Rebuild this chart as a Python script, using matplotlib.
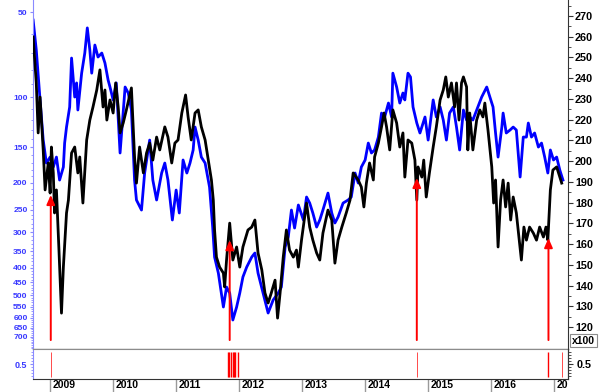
import matplotlib
matplotlib.use("Agg")
import matplotlib.pyplot as plt
from matplotlib.ticker import FixedLocator, NullFormatter, FixedFormatter
from matplotlib.transforms import Bbox, TransformedBbox, blended_transform_factory

plt.rcParams['font.family'] = ['Liberation Sans', 'DejaVu Sans']

# ---------------- data (decimal years) ----------------
black_dates = [2008.73, 2008.78, 2008.81, 2008.84, 2008.89, 2008.92, 2008.97, 2009.00, 2009.02, 2009.05,
               2009.07, 2009.10, 2009.14, 2009.18, 2009.21, 2009.26, 2009.29, 2009.34, 2009.39, 2009.44,
               2009.47, 2009.52, 2009.58, 2009.63, 2009.68, 2009.74, 2009.79, 2009.84, 2009.87, 2009.90,
               2009.95, 2010.00, 2010.04, 2010.08, 2010.11, 2010.16, 2010.21, 2010.29, 2010.34, 2010.37,
               2010.42, 2010.48, 2010.53, 2010.58, 2010.63, 2010.69, 2010.74, 2010.82, 2010.87, 2010.93,
               2010.98, 2011.03, 2011.09, 2011.15, 2011.19, 2011.24, 2011.30, 2011.35, 2011.40, 2011.46,
               2011.51, 2011.56, 2011.59, 2011.61, 2011.64, 2011.69, 2011.75, 2011.77, 2011.80, 2011.85,
               2011.90, 2011.96, 2012.01, 2012.06, 2012.14, 2012.20, 2012.25, 2012.30, 2012.36, 2012.41,
               2012.46, 2012.51, 2012.57, 2012.61, 2012.65, 2012.70, 2012.75, 2012.80, 2012.86, 2012.91,
               2012.94, 2012.99, 2013.07, 2013.12, 2013.17, 2013.23, 2013.28, 2013.33, 2013.41, 2013.47,
               2013.52, 2013.57, 2013.63, 2013.70, 2013.76, 2013.81, 2013.89, 2013.94, 2013.98, 2014.02,
               2014.07, 2014.13, 2014.15, 2014.21, 2014.26, 2014.30, 2014.34, 2014.39, 2014.44, 2014.50,
               2014.55, 2014.60, 2014.63, 2014.68, 2014.74, 2014.79, 2014.82, 2014.84, 2014.90, 2014.93,
               2014.97, 2015.02, 2015.08, 2015.13, 2015.19, 2015.24, 2015.28, 2015.32, 2015.37, 2015.42,
               2015.45, 2015.49, 2015.53, 2015.56, 2015.61, 2015.63, 2015.66, 2015.71, 2015.77, 2015.82,
               2015.87, 2015.90, 2015.95, 2016.01, 2016.04, 2016.07, 2016.11, 2016.15, 2016.19, 2016.23,
               2016.27, 2016.31, 2016.35, 2016.40, 2016.44, 2016.48, 2016.52, 2016.56, 2016.61, 2016.67,
               2016.72, 2016.77, 2016.83, 2016.87, 2016.90, 2016.94, 2016.98, 2017.04, 2017.09, 2017.12]
black_vals = [259.9, 237.7, 213.6, 230.9, 205.4, 186.1, 199.1, 184.6, 206.8, 194.3,
              175.0, 186.1, 157.1, 126.7, 148.9, 175.0, 181.2, 203.9, 206.8, 194.3,
              202.0, 179.8, 210.2, 219.8, 226.1, 234.3, 244.0, 226.1, 234.3, 219.8,
              229.5, 223.2, 237.7, 226.1, 213.6, 218.4, 224.7, 235.3, 202.0, 189.4,
              206.8, 194.3, 203.9, 208.7, 200.5, 211.6, 205.4, 216.5, 211.6, 199.1,
              208.7, 210.2, 223.2, 231.9, 221.3, 210.2, 223.2, 224.7, 216.5, 210.2,
              200.5, 190.9, 181.2, 166.8, 153.7, 148.9, 146.0, 139.3, 152.3, 170.1,
              152.3, 158.6, 148.9, 158.6, 166.8, 168.2, 171.6, 155.7, 147.5, 136.4,
              131.6, 136.4, 142.6, 124.3, 136.4, 153.7, 166.8, 157.1, 153.7, 157.1,
              148.9, 161.9, 179.8, 168.2, 161.9, 155.7, 152.3, 165.3, 176.4, 171.6,
              150.8, 161.9, 168.2, 175.0, 181.2, 194.3, 190.9, 187.5, 177.9, 189.4,
              199.1, 190.9, 202.0, 208.7, 216.5, 223.2, 216.5, 205.4, 224.7, 218.4,
              206.8, 213.6, 192.3, 210.2, 208.7, 200.5, 181.2, 197.2, 192.3, 200.5,
              182.7, 194.3, 206.8, 216.5, 229.5, 234.3, 240.6, 230.9, 237.7, 226.1,
              237.7, 219.8, 237.7, 240.6, 235.8, 205.4, 223.2, 205.4, 219.8, 224.7,
              221.3, 228.0, 215.0, 197.2, 179.8, 190.9, 158.6, 181.2, 190.9, 177.9,
              189.4, 171.6, 182.7, 175.0, 163.4, 152.3, 168.2, 161.9, 168.2, 165.3,
              161.9, 168.2, 163.4, 168.2, 161.9, 186.1, 195.7, 197.2, 192.3, 189.4]

blue_dates = [2008.73, 2008.78, 2008.84, 2008.89, 2008.94, 2009.00, 2009.05, 2009.10, 2009.15, 2009.21,
              2009.23, 2009.26, 2009.31, 2009.34, 2009.39, 2009.42, 2009.44, 2009.50, 2009.55, 2009.59,
              2009.63, 2009.66, 2009.71, 2009.76, 2009.82, 2009.87, 2009.92, 2009.95, 2010.00, 2010.05,
              2010.11, 2010.19, 2010.24, 2010.29, 2010.34, 2010.37, 2010.45, 2010.50, 2010.58, 2010.63,
              2010.69, 2010.77, 2010.82, 2010.87, 2010.94, 2011.00, 2011.05, 2011.11, 2011.17, 2011.22,
              2011.27, 2011.30, 2011.35, 2011.40, 2011.46, 2011.53, 2011.58, 2011.61, 2011.67, 2011.75,
              2011.80, 2011.85, 2011.90, 2011.96, 2012.01, 2012.06, 2012.12, 2012.20, 2012.25, 2012.30,
              2012.38, 2012.46, 2012.54, 2012.62, 2012.67, 2012.73, 2012.78, 2012.83, 2012.88, 2012.94,
              2013.02, 2013.07, 2013.12, 2013.17, 2013.23, 2013.28, 2013.33, 2013.41, 2013.47, 2013.52,
              2013.57, 2013.65, 2013.73, 2013.78, 2013.84, 2013.89, 2013.94, 2014.00, 2014.05, 2014.10,
              2014.15, 2014.21, 2014.26, 2014.31, 2014.37, 2014.42, 2014.44, 2014.50, 2014.55, 2014.60,
              2014.63, 2014.68, 2014.72, 2014.76, 2014.82, 2014.87, 2014.95, 2015.00, 2015.08, 2015.13,
              2015.19, 2015.24, 2015.29, 2015.34, 2015.40, 2015.45, 2015.50, 2015.56, 2015.61, 2015.66,
              2015.71, 2015.79, 2015.85, 2015.93, 2015.98, 2016.03, 2016.07, 2016.11, 2016.17, 2016.19,
              2016.24, 2016.30, 2016.35, 2016.40, 2016.46, 2016.51, 2016.56, 2016.59, 2016.64, 2016.69,
              2016.75, 2016.80, 2016.85, 2016.90, 2016.94, 2016.99, 2017.04, 2017.09, 2017.14]
blue_vals = [53.4, 68.1, 102.2, 141.6, 170.7, 162.6, 176.3, 162.6, 196.0, 176.3,
             145.1, 127.4, 108.2, 72.7, 99.8, 89.0, 110.9, 82.2, 69.8, 56.9,
             68.1, 82.2, 65.4, 72.1, 69.8, 75.7, 86.9, 92.0, 102.2, 89.0,
             157.3, 92.0, 96.6, 110.9, 196.0, 230.5, 250.1, 185.1, 141.6, 196.0,
             230.5, 185.1, 170.7, 196.0, 271.2, 212.6, 256.2, 166.5, 185.1, 170.7,
             153.5, 127.4, 141.6, 162.6, 170.7, 207.5, 287.2, 366.5, 417.5, 550.1,
             467.8, 491.3, 611.5, 550.1, 491.3, 431.0, 397.6, 366.5, 354.7, 417.5,
             491.3, 577.7, 519.6, 491.3, 467.8, 337.9, 311.4, 250.1, 289.5, 240.1,
             271.2, 225.0, 236.3, 256.2, 287.2, 271.2, 250.1, 217.9, 256.2, 277.9,
             264.8, 236.3, 230.5, 225.0, 185.1, 200.8, 176.3, 166.5, 145.1, 157.3,
             153.5, 138.2, 113.7, 117.4, 104.8, 117.4, 82.2, 92.0, 104.8, 96.6,
             102.2, 82.2, 84.8, 108.2, 123.3, 133.7, 117.4, 141.6, 102.2, 117.4,
             108.2, 120.3, 141.6, 113.7, 108.2, 127.4, 153.5, 110.9, 120.3, 117.4,
             120.3, 108.2, 99.8, 92.0, 99.8, 108.2, 133.7, 162.6, 127.4, 113.7,
             133.7, 130.5, 127.4, 130.5, 191.2, 138.2, 138.2, 123.3, 138.2, 133.7,
             149.9, 145.1, 162.6, 185.1, 153.5, 166.5, 162.6, 180.7, 196.0]

arrow_dates = [2009.01, 2011.85, 2014.82, 2016.91]
arrow_tips = [183.7, 161.9, 191.9, 162.9]
arrow_base = 113.7

signal_dates = [2009.01, 2011.82, 2011.84, 2011.87, 2011.90, 2011.92, 2011.94, 2011.98, 2014.82, 2016.91, 2017.13]
signal_weight = [1, 2, 2, 2, 2, 2, 2, 2, 1, 2, 1]

years = [2009, 2010, 2011, 2012, 2013, 2014, 2015, 2016, 2017]
left_ticks = [50, 100, 150, 200, 250, 300, 350, 400, 450, 500, 550, 600, 650, 700]
right_ticks = [120, 130, 140, 150, 160, 170, 180, 190, 200, 210, 220, 230, 240, 250, 260, 270]

# ---------------- figure ----------------
W, H = 600, 392
fig = plt.figure(figsize=(W / 100, H / 100), dpi=100)
x0, x1 = 32.5, 568.0
ax = fig.add_axes([x0 / W, 1 - 349 / H, (x1 - x0) / W, 349 / H])
ax2 = fig.add_axes([x0 / W, 1 - 379 / H, (x1 - x0) / W, 30 / H])

XMIN, XMAX = 2008.72, 2017.22
BLUE_LAB = '#3838ff'
BLUE_SPINE = '#8a8aff'

# left (blue, inverted log)
ax.set_yscale('log')
ax.plot(blue_dates, blue_vals, color='#0000ff', lw=2.0, solid_joinstyle='round', zorder=2)
ax.set_ylim(774, 45.35)
ax.set_xlim(XMIN, XMAX)
ax.yaxis.set_major_locator(FixedLocator(left_ticks))
ax.yaxis.set_major_formatter(FixedFormatter([str(v) for v in left_ticks]))
ax.yaxis.set_minor_locator(FixedLocator([v for v in range(50, 771, 10) if v not in left_ticks]))
ax.yaxis.set_minor_formatter(NullFormatter())
ax.tick_params(axis='y', which='major', direction='out', length=2.5, width=0.8,
               color=BLUE_SPINE, labelcolor=BLUE_LAB, labelsize=6.1, pad=1)
ax.tick_params(axis='y', which='minor', direction='out', length=1.5, width=0.6, color=BLUE_SPINE)
for lab in ax.get_yticklabels():
    lab.set_fontweight('bold')
ax.tick_params(axis='x', which='both', bottom=False, labelbottom=False)
ax.spines['top'].set_visible(False)
ax.spines['right'].set_visible(False)
ax.spines['left'].set_color(BLUE_SPINE)
ax.spines['bottom'].set_color('#8c8c8c')
ax.spines['bottom'].set_linewidth(1.0)

# right (black, linear)
axr = ax.twinx()
axr.plot(black_dates, black_vals, color='black', lw=2.0, solid_joinstyle='round', zorder=3)
axr.set_ylim(109.4, 277.7)
axr.set_xlim(XMIN, XMAX)
axr.yaxis.set_major_locator(FixedLocator(right_ticks))
axr.yaxis.set_minor_locator(FixedLocator([v + 5 for v in right_ticks]))
axr.tick_params(axis='y', which='major', direction='out', length=3.5, width=0.8,
                color='#333333', labelsize=7.8, pad=1.5)
axr.tick_params(axis='y', which='minor', direction='out', length=2, width=0.6, color='#333333')
for lab in axr.get_yticklabels():
    lab.set_fontweight('bold')
for s in ['top', 'left', 'bottom']:
    axr.spines[s].set_visible(False)
axr.spines['right'].set_color('#333333')

for d, tip in zip(arrow_dates, arrow_tips):
    axr.annotate('', xy=(d, tip), xytext=(d, arrow_base),
                 arrowprops=dict(arrowstyle='-|>,head_length=0.8,head_width=0.35',
                                 color='#ff0000', lw=1.4, shrinkA=0, shrinkB=0,
                                 mutation_scale=7), zorder=5)

# bottom signal panel
ax2.set_xlim(XMIN, XMAX)
ax2.set_ylim(0, 1)
for d, w in zip(signal_dates, signal_weight):
    ax2.plot([d, d], [0.08, 0.91], color='#ff0000' if w == 2 else '#ff4a4a',
             lw=1.0 if w == 2 else 0.7, solid_capstyle='butt')
ax2.yaxis.set_major_locator(FixedLocator([0.5]))
ax2.yaxis.set_major_formatter(FixedFormatter(['0.5']))
ax2.yaxis.set_minor_locator(FixedLocator([0.1, 0.2, 0.3, 0.4, 0.6, 0.7, 0.8, 0.9]))
ax2.tick_params(axis='y', which='major', direction='out', length=2.5, width=0.8,
                color=BLUE_SPINE, labelcolor=BLUE_LAB, labelsize=6.5, pad=1.5)
ax2.tick_params(axis='y', which='minor', direction='out', length=1.5, width=0.6, color=BLUE_SPINE)
for lab in ax2.get_yticklabels():
    lab.set_fontweight('bold')
ax2.spines['top'].set_color('#8c8c8c')
ax2.spines['left'].set_color(BLUE_SPINE)
ax2.spines['right'].set_color('#333333')
ax2.spines['bottom'].set_color('#333333')
ax2.xaxis.set_major_locator(FixedLocator(years))
ax2.xaxis.set_major_formatter(NullFormatter())
ax2.tick_params(axis='x', which='major', direction='out', length=9.5, width=1.0,
                color='#9a9a9a')

ax2r = ax2.twinx()
ax2r.set_ylim(0, 1)
ax2r.yaxis.set_major_locator(FixedLocator([0.5]))
ax2r.yaxis.set_major_formatter(FixedFormatter(['0.5']))
ax2r.yaxis.set_minor_locator(FixedLocator([0.1, 0.2, 0.3, 0.4, 0.6, 0.7, 0.8, 0.9]))
ax2r.tick_params(axis='y', which='major', direction='out', length=3.5, width=0.8,
                 color='#333333', labelsize=7.8, pad=3)
ax2r.tick_params(axis='y', which='minor', direction='out', length=2, width=0.6, color='#333333')
for lab in ax2r.get_yticklabels():
    lab.set_fontweight('bold')
for s in ['top', 'left', 'bottom']:
    ax2r.spines[s].set_visible(False)
ax2r.spines['right'].set_color('#333333')

# year labels to the right of the tick lines, clipped at the right axis
trans = blended_transform_factory(ax2.transData, fig.transFigure)
clip = TransformedBbox(Bbox([[0, 0], [x1 / W, 1]]), fig.transFigure)
for yv in years:
    t = fig.text(0, 0, str(yv), fontsize=7.5, fontweight='bold', color='black',
                 ha='left', va='center', transform=trans)
    t.set_position((yv + 0.035, 1 - 385.5 / H))
    t.set_clip_box(clip)
    t.set_clip_on(True)

# x100 multiplier box
fig.text(583.5 / W, 1 - 340.5 / H, 'x100', fontsize=7.5, fontweight='bold', ha='center', va='center',
         bbox=dict(boxstyle='square,pad=0.15', fc='white', ec='#8c8c8c', lw=0.8))

fig.savefig('out.png', dpi=100)
